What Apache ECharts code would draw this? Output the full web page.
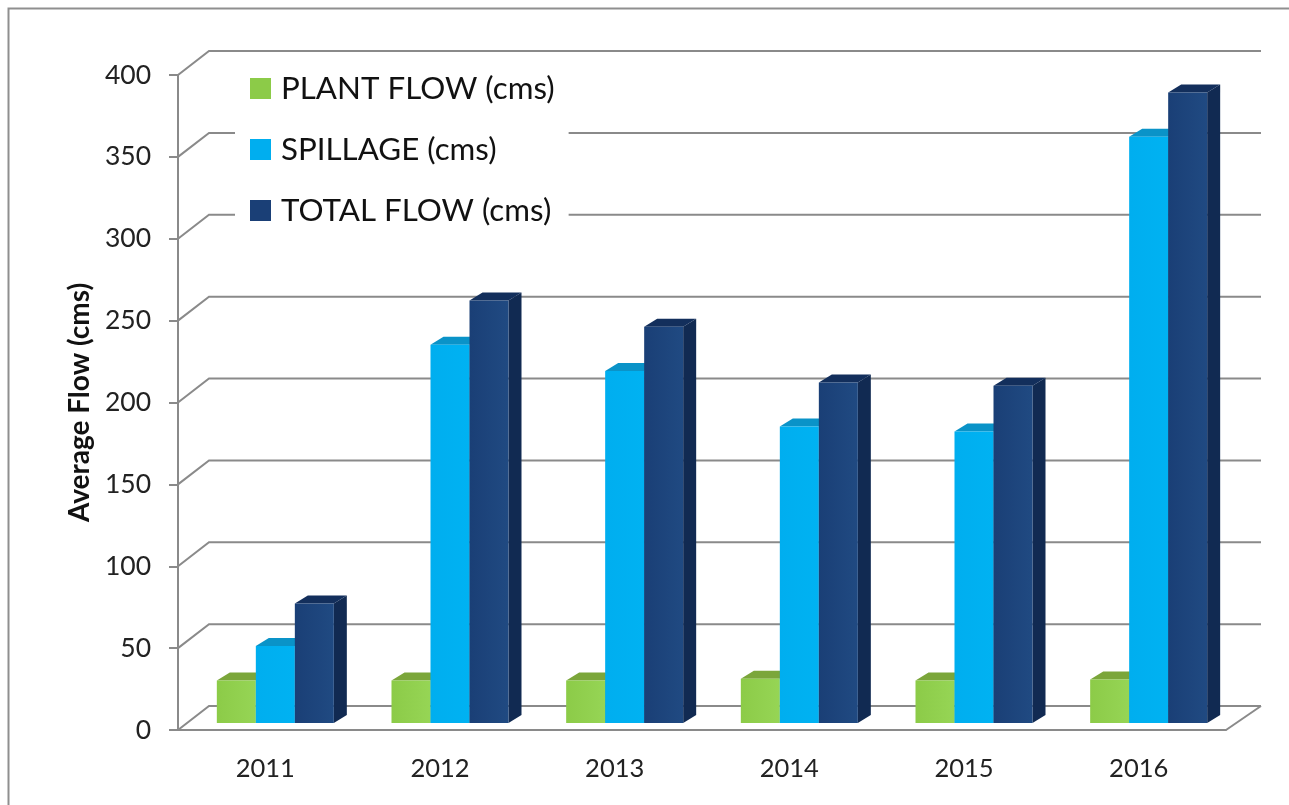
<!DOCTYPE html>
<html>
<head>
<meta charset="utf-8">
<title>Average Flow</title>
<script src="https://cdn.jsdelivr.net/npm/echarts@6/dist/echarts.min.js"></script>
<style>
html, body { margin: 0; padding: 0; background: #fff; }
#mychart { width: 1289px; height: 805px; }
</style>
</head>
<body>
<div id="mychart"></div>
<script>
"use strict";
const years = ['2011', '2012', '2013', '2014', '2015', '2016'];
const plantFlow = [26, 26, 26, 27, 26, 26.5];
const spillage = [47, 231, 215, 181, 178, 358];
const totalFlow = [73, 258, 242, 208, 206, 385];
const wallTicks = [0, 50, 100, 150, 200, 250, 300, 350, 400];

const FONT = 'Lato';
const AXIS_COLOR = '#8a8a8a';

// fake 3D offsets, pixels
const WALL_DX = 31, WALL_RIGHT_DX = 35, WALL_DY = -24;
const BAR_BASE_DY = -7;
const BAR_DX = 13, BAR_DY = -8;
const BAR_BAND = 0.2233;
const CLUSTER_SHIFT = 10;

const container = document.getElementById('mychart');
const myChart = echarts.init(container);

function shade(c1, c2) {
    return new echarts.graphic.LinearGradient(0, 0, 1, 0, [
        { offset: 0, color: c1 },
        { offset: 1, color: c2 }
    ]);
}

function barRenderer(slot, front, top, side) {
    return function (params, api) {
        const cat = api.value(0);
        const base = api.coord([cat, 0]);
        const head = api.coord([cat, api.value(1)]);
        const w = api.size([1, 0])[0] * BAR_BAND;
        const x0 = base[0] + CLUSTER_SHIFT - 1.5 * w + slot * w;
        const x1 = x0 + w;
        const y0 = base[1] + BAR_BASE_DY;
        const y1 = head[1] + BAR_BASE_DY;
        return {
            type: 'group',
            children: [
                {
                    type: 'polygon',
                    shape: { points: [[x1, y0], [x1 + BAR_DX, y0 + BAR_DY], [x1 + BAR_DX, y1 + BAR_DY], [x1, y1]] },
                    style: { fill: side }
                },
                {
                    type: 'polygon',
                    shape: { points: [[x0, y1], [x0 + BAR_DX, y1 + BAR_DY], [x1 + BAR_DX, y1 + BAR_DY], [x1, y1]] },
                    style: { fill: top }
                },
                {
                    type: 'rect',
                    shape: { x: x0, y: y1, width: w, height: y0 - y1 },
                    style: { fill: front }
                }
            ]
        };
    };
}

function wallRenderer(params, api) {
    const value = api.value(0);
    const left = api.coord([0, value]);
    const size = api.size([1, 0])[0];
    const x0 = left[0] - size / 2;
    const x1 = x0 + size * years.length;
    const y = left[1];
    const style = { stroke: AXIS_COLOR, lineWidth: 2, fill: 'none' };
    const children = [{
        type: 'polyline',
        shape: { points: [[x0, y], [x0 + WALL_DX, y + WALL_DY], [x1 + WALL_RIGHT_DX, y + WALL_DY]] },
        style: style
    }];
    if (value === 0) {
        children.push({
            type: 'line',
            shape: { x1: x1, y1: y, x2: x1 + WALL_RIGHT_DX, y2: y + WALL_DY },
            style: style
        });
    }
    return { type: 'group', children: children };
}

function barSeries(name, values, slot, front, top, side) {
    return {
        type: 'custom',
        name: name,
        coordinateSystem: 'cartesian2d',
        clip: false,
        z: 3 + slot,
        itemStyle: { color: front[0] },
        encode: { x: 0, y: 1 },
        data: values.map((v, i) => [i, v]),
        renderItem: barRenderer(slot, shade(front[0], front[1]), top, side)
    };
}

const option = {
    animation: false,
    backgroundColor: '#fff',
    textStyle: { fontFamily: FONT },
    grid: { left: 178, right: 63, top: 75, bottom: 75 },
    graphic: [{
        type: 'rect',
        silent: true,
        z: 0,
        shape: { x: 8.5, y: 8.5, width: 1400, height: 1000 },
        style: { fill: 'none', stroke: '#8f8f8f', lineWidth: 2 }
    }],
    legend: {
        orient: 'vertical',
        left: 235,
        top: 70,
        padding: [3, 14, 4, 15],
        itemGap: 30,
        itemWidth: 21,
        itemHeight: 21,
        backgroundColor: '#fff',
        z: 10,
        icon: 'rect',
        selectedMode: false,
        textStyle: { fontFamily: FONT, fontSize: 31.3, color: '#111', padding: [0, 0, 0, 5] },
        data: ['PLANT FLOW (cms)', 'SPILLAGE (cms)', 'TOTAL FLOW (cms)']
    },
    xAxis: {
        type: 'category',
        data: years,
        boundaryGap: true,
        axisLine: { lineStyle: { color: AXIS_COLOR, width: 2 } },
        axisTick: { length: 8, lineStyle: { color: AXIS_COLOR, width: 2 } },
        axisLabel: { fontFamily: FONT, fontSize: 25.5, color: '#222', margin: 26 }
    },
    yAxis: {
        type: 'value',
        min: 0,
        max: 400,
        interval: 50,
        name: 'Average Flow (cms)',
        nameLocation: 'middle',
        nameGap: 84,
        nameTextStyle: { fontFamily: FONT, fontSize: 28, fontWeight: 'bold', color: '#111' },
        axisLine: { show: true, lineStyle: { color: AXIS_COLOR, width: 2 } },
        axisTick: { show: true, length: 9, lineStyle: { color: AXIS_COLOR, width: 2 } },
        axisLabel: { fontFamily: FONT, fontSize: 26.5, color: '#222', margin: 27, padding: [6, 0, 0, 0] },
        splitLine: { show: false }
    },
    series: [
        {
            type: 'custom',
            silent: true,
            coordinateSystem: 'cartesian2d',
            clip: false,
            z: 1,
            encode: { y: 0 },
            data: wallTicks.map(v => [v]),
            renderItem: wallRenderer,
            legendHoverLink: false
        },
        barSeries('PLANT FLOW (cms)', plantFlow, 0, ['#8ccb48', '#96d555'], '#7ba63a', '#6f9a38'),
        barSeries('SPILLAGE (cms)', spillage, 1, ['#00aeef', '#00b2f2'], '#0a93c8', '#0a86b8'),
        barSeries('TOTAL FLOW (cms)', totalFlow, 2, ['#1a3f76', '#204a82'], '#132f5c', '#112a52')
    ]
};
myChart.setOption(option);
</script>
</body>
</html>
